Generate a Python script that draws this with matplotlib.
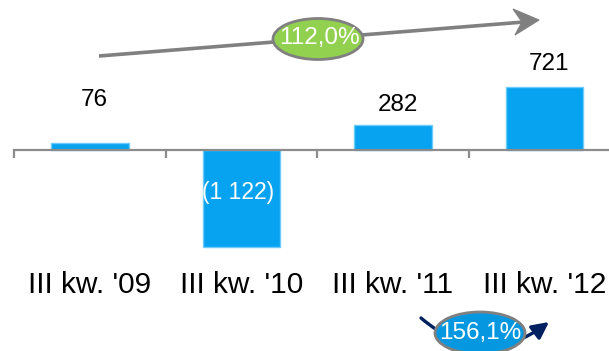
import matplotlib.pyplot as plt
from matplotlib.patches import Ellipse, FancyArrowPatch, Polygon

# dane
kwartaly = ["III kw. '09", "III kw. '10", "III kw. '11", "III kw. '12"]
wartosci = [76, -1122, 282, 721]
etykiety = ["76", "(1 122)", "282", "721"]
zmiana_gora = "112,0%"
zmiana_dol = "156,1%"

plt.rcParams['font.family'] = ['Liberation Sans', 'DejaVu Sans']

W, H = 609, 351
fig = plt.figure(figsize=(W / 100, H / 100), dpi=100)

# skala: 0 na wysokosci 149.5 px, 0.0866 px na jednostke
px_per_unit = 0.0866
zero_px = 149.5
ax = fig.add_axes([0, 0, 1, 1])
ax.set_xlim(-90 / 151.5, (W - 90) / 151.5)
ax.set_ylim(-(H - zero_px) / px_per_unit, zero_px / px_per_unit)
ax.axis('off')

def px(p):
    # odleglosc w pikselach -> jednostki danych
    return p / px_per_unit

x = range(len(kwartaly))
ax.bar(x, wartosci, width=0.51, color='#07A2F0', edgecolor='#6CCBF8',
       linewidth=1, zorder=2)

# os pozioma i znaczniki
ax.plot([-0.5, 3.6], [0, 0], color='#8C8C8C', lw=1.6, zorder=3)
ax.vlines([-0.5, 0.5, 1.5, 2.5], -px(8), 0, color='#8C8C8C', lw=1.6, zorder=3)

# etykiety kategorii
for i, k in enumerate(kwartaly):
    ax.text(i, -px(285 - zero_px), k, ha='center', va='center',
            fontsize=21.5, color='black')

# etykiety wartosci
odstep = [43, 0, 20, 23]
for i, (v, e) in enumerate(zip(wartosci, etykiety)):
    if v < 0:
        ax.text(i - 0.02, -px(192 - zero_px), e, ha='center', va='center',
                fontsize=16.5, color='white', zorder=4)
    else:
        ax.text(i + 0.03, v + px(odstep[i]), e, ha='center', va='center',
                fontsize=17.5, color='black')

# nakladka w pikselach na strzalki
ov = fig.add_axes([0, 0, 1, 1])
ov.set_xlim(0, W)
ov.set_ylim(H, 0)
ov.axis('off')
ov.patch.set_alpha(0)

# gorna strzalka (grot typu "stealth")
ov.plot([99, 524], [56, 22], color='#808080', lw=2.6, zorder=2,
        solid_capstyle='butt')
ov.add_patch(Polygon([(539, 20), (513, 9), (522, 22), (515, 35)], closed=True,
                     facecolor='#808080', edgecolor='#808080', lw=0.8, zorder=2))
ov.add_patch(Ellipse((318, 39), 90, 41, facecolor='#92D050', edgecolor='#808080',
                     lw=2, zorder=3))
ov.text(319, 38, zmiana_gora, ha='center', va='center', fontsize=17.5,
        color='white', zorder=4)

# dolna strzalka
ov.add_patch(FancyArrowPatch((421, 318), (549, 322), connectionstyle='arc3,rad=0.4',
                             arrowstyle='-|>,head_length=10,head_width=5',
                             mutation_scale=1, shrinkA=0, shrinkB=0,
                             color='#002060', lw=2.4, zorder=2))
ov.add_patch(Ellipse((480, 333), 90, 42, facecolor='#0597E0', edgecolor='#808080',
                     lw=2, zorder=3))
ov.text(480, 333, zmiana_dol, ha='center', va='center', fontsize=17.5,
        color='white', zorder=4)

fig.savefig('out.png', dpi=100)
